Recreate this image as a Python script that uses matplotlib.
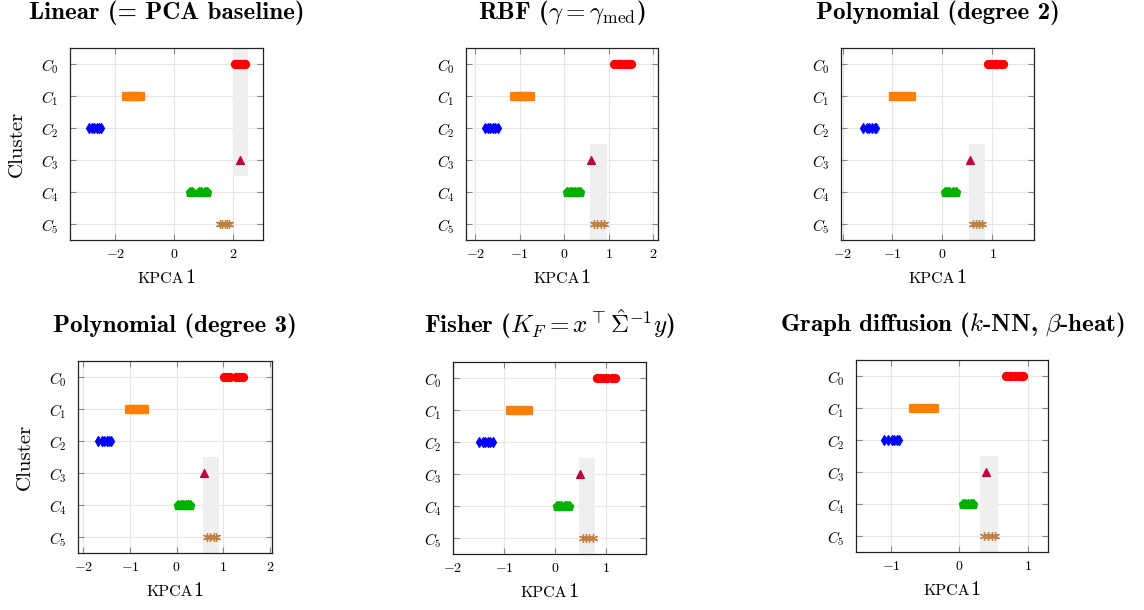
"""Six kernel-PCA panels: first component per cluster, one panel per kernel."""

import matplotlib
matplotlib.use("Agg")
import matplotlib.pyplot as plt
from matplotlib.offsetbox import AnchoredOffsetbox, HPacker, TextArea

plt.rcParams["mathtext.fontset"] = "cm"
plt.rcParams["font.family"] = ["cmr10", "DejaVu Serif"]
plt.rcParams["axes.formatter.use_mathtext"] = True

# ---- data -----------------------------------------------------------------
KERNELS = [
    "Linear (= PCA baseline)",
    r"RBF ($\gamma = \gamma_{\mathrm{med}}$)",
    "Polynomial (degree 2)",
    "Polynomial (degree 3)",
    r"Fisher ($K_F = x^{\top}\hat{\Sigma}^{-1}y$)",
    r"Graph diffusion ($k$-NN, $\beta$-heat)",
]
CLUSTERS = [r"$C_0$", r"$C_1$", r"$C_2$", r"$C_3$", r"$C_4$", r"$C_5$"]

# KPCA1 scores per cluster, one list per kernel (same order as KERNELS)
C0_X = [[2.06, 2.14, 2.20, 2.27, 2.33, 2.41],
        [1.12, 1.20, 1.27, 1.35, 1.43, 1.51],
        [0.91, 0.97, 1.05, 1.10, 1.17, 1.21],
        [1.01, 1.08, 1.15, 1.26, 1.33, 1.41],
        [0.83, 0.90, 0.98, 1.02, 1.13, 1.19],
        [0.69, 0.75, 0.80, 0.86, 0.91, 0.94]]
C1_X = [[-1.62, -1.52, -1.43, -1.35, -1.25, -1.16],
        [-1.13, -1.05, -0.98, -0.90, -0.84, -0.78],
        [-0.99, -0.92, -0.85, -0.77, -0.70, -0.63],
        [-1.02, -0.95, -0.88, -0.81, -0.75, -0.69],
        [-0.88, -0.81, -0.74, -0.67, -0.60, -0.53],
        [-0.68, -0.62, -0.56, -0.49, -0.43, -0.37]]
C2_X = [[-2.88, -2.80, -2.72, -2.63, -2.55, -2.50],
        [-1.79, -1.72, -1.66, -1.60, -1.55, -1.50],
        [-1.60, -1.52, -1.47, -1.42, -1.36, -1.33],
        [-1.68, -1.60, -1.55, -1.50, -1.45, -1.41],
        [-1.49, -1.42, -1.37, -1.32, -1.27, -1.22],
        [-1.10, -1.04, -0.99, -0.95, -0.91, -0.88]]
C3_X = [[2.25], [0.60], [0.55], [0.58], [0.49], [0.39]]
C4_X = [[0.55, 0.62, 0.83, 0.90, 1.06, 1.13],
        [0.06, 0.12, 0.18, 0.24, 0.30, 0.35],
        [0.05, 0.10, 0.14, 0.22, 0.27],
        [0.03, 0.09, 0.14, 0.20, 0.25, 0.28],
        [0.05, 0.09, 0.13, 0.20, 0.24, 0.27],
        [0.05, 0.09, 0.13, 0.17, 0.20]]
C5_X = [[1.56, 1.64, 1.72, 1.80, 1.85],
        [0.67, 0.74, 0.82, 0.89],
        [0.62, 0.68, 0.74, 0.80],
        [0.66, 0.72, 0.79, 0.85],
        [0.55, 0.61, 0.68, 0.74],
        [0.36, 0.42, 0.48, 0.53]]

# shaded band (x range, cluster range) per kernel
BAND_X = [(2.0, 2.5), (0.58, 0.96), (0.53, 0.85), (0.56, 0.90), (0.47, 0.79), (0.31, 0.57)]
BAND_Y = [(-0.5, 3.5), (2.5, 5.5), (2.5, 5.5), (2.5, 5.5), (2.5, 5.5), (2.5, 5.5)]

XLIMS = [(-3.54, 3.02), (-2.21, 2.11), (-2.03, 1.83), (-2.11, 2.04), (-2.0, 1.79), (-1.51, 1.30)]
XTICKS = [[-2, 0, 2], [-2, -1, 0, 1, 2], [-2, -1, 0, 1], [-2, -1, 0, 1, 2], [-2, -1, 0, 1], [-1, 0, 1]]

# ---- styles ----------------------------------------------------------------
STYLES = [
    dict(color="#ff0000", marker="o", ms=5.8),
    dict(color="#ff8000", marker="s", ms=5.6),
    dict(color="#0000ff", marker="d", ms=5.5),
    dict(color="#bf0040", marker="^", ms=6.0),
    dict(color="#00b000", marker="p", ms=6.8),
    dict(color="#bf8040", marker=(6, 2, 0), ms=6.5),
]

# axes boxes in pixels (left, top, width, height) on a 1144x610 canvas
W, H = 1144, 610
BOXES = [(70, 48, 193, 192), (466, 48, 192, 192), (841, 48, 193, 192),
         (78, 361, 194, 192), (453, 362, 193, 192), (856, 360, 192, 192)]

fig = plt.figure(figsize=(W / 100, H / 100), dpi=100)

for k, title in enumerate(KERNELS):
    left, top, w, h = BOXES[k]
    ax = fig.add_axes([left / W, 1 - (top + h) / H, w / W, h / H])
    ax.set_axisbelow(True)

    (bx0, bx1), (by0, by1) = BAND_X[k], BAND_Y[k]
    ax.fill_betweenx([by0, by1], bx0, bx1, color="#efefef", lw=0, zorder=1)

    series = [C0_X[k], C1_X[k], C2_X[k], C3_X[k], C4_X[k], C5_X[k]]
    for ci, xs in enumerate(series):
        st = STYLES[ci]
        ax.plot(xs, [ci] * len(xs), ls="none", marker=st["marker"], ms=st["ms"],
                color=st["color"], mec=st["color"], mew=0.9, zorder=3)

    ax.set_xlim(*XLIMS[k])
    ax.set_ylim(5.5, -0.5)
    ax.set_xticks(XTICKS[k])
    ax.set_xticklabels([f"${v:g}$" for v in XTICKS[k]])
    ax.set_yticks(range(len(CLUSTERS)))
    ax.set_yticklabels(CLUSTERS)
    ax.tick_params(direction="in", top=True, right=True, length=4.5, width=0.8,
                   color="#888888")
    ax.tick_params(axis="y", labelsize=11, pad=8)
    ax.tick_params(axis="x", labelsize=10, pad=6)
    ax.grid(True, color="#e6e6e6", lw=0.8)
    for sp in ax.spines.values():
        sp.set_linewidth(0.9)
        sp.set_color("#222222")

    ax.set_title(title, family="cmb10", fontsize=18, pad=21)

    # small-caps style x label: "KPCA" + "1"
    label = HPacker(children=[
        TextArea("KPCA", textprops=dict(family="cmr10", fontsize=11.5)),
        TextArea("1", textprops=dict(family="cmr10", fontsize=14.5)),
    ], align="baseline", pad=0, sep=0.5)
    ax.add_artist(AnchoredOffsetbox(loc="lower center", child=label, pad=0, borderpad=0,
                                    frameon=False, bbox_to_anchor=(0.5, -0.245),
                                    bbox_transform=ax.transAxes))

    if k % 3 == 0:
        ax.set_ylabel("Cluster", family="cmr10", fontsize=15)
        ax.yaxis.set_label_coords(-0.23, 0.5)

fig.savefig("out.png", dpi=100, facecolor="white")
